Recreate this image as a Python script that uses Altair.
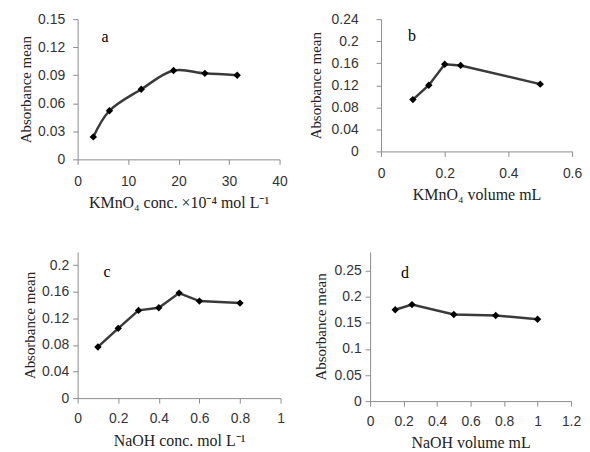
import altair as alt
import pandas as pd

# Panel a
a_x = [3.1, 6.3, 12.6, 19.0, 25.2, 31.6]
a_y = [0.024, 0.052, 0.075, 0.095, 0.092, 0.090]
# Panel b
b_x = [0.1, 0.15, 0.2, 0.25, 0.5]
b_y = [0.094, 0.120, 0.158, 0.156, 0.122]
# Panel c
c_x = [0.1, 0.2, 0.3, 0.4, 0.5, 0.6, 0.8]
c_y = [0.077, 0.105, 0.132, 0.136, 0.158, 0.146, 0.143]
# Panel d
d_x = [0.15, 0.25, 0.5, 0.75, 1.0]
d_y = [0.175, 0.185, 0.166, 0.164, 0.157]

a_xticks = [0, 10, 20, 30, 40]
a_yticks = [0, 0.03, 0.06, 0.09, 0.12, 0.15]
b_xticks = [0, 0.2, 0.4, 0.6]
b_yticks = [0, 0.04, 0.08, 0.12, 0.16, 0.2, 0.24]
c_xticks = [0, 0.2, 0.4, 0.6, 0.8, 1]
c_yticks = [0, 0.04, 0.08, 0.12, 0.16, 0.2]
d_xticks = [0, 0.2, 0.4, 0.6, 0.8, 1, 1.2]
d_yticks = [0, 0.05, 0.1, 0.15, 0.2, 0.25]

SERIF = "Liberation Serif"
SANS = "Liberation Sans"
AXIS_COL = "#8c8c8c"


def panel(xs, ys, xdom, xticks, ydom, yticks, xtitle, letter, w, h, lx, ly,
          ytp, ylp, xlp, xtp, interp):
    df = pd.DataFrame({"x": xs, "y": ys})
    xenc = alt.X("x:Q", scale=alt.Scale(domain=xdom, nice=False, zero=False),
                 axis=alt.Axis(values=xticks, title=xtitle, format="~r", grid=False,
                               titlePadding=xtp, labelPadding=xlp, labelFlush=False,
                               titleFontSize=16))
    yenc = alt.Y("y:Q", scale=alt.Scale(domain=ydom, nice=False, zero=False),
                 axis=alt.Axis(values=yticks, title="Absorbance mean", format="~r", grid=False,
                               titlePadding=ytp, labelPadding=ylp, titleFontSize=15))
    base = alt.Chart(df).encode(x=xenc, y=yenc)
    line = base.mark_line(color="#3a3a3a", strokeWidth=2.5, interpolate=interp)
    pts = base.mark_point(shape="diamond", filled=True, color="#000000", size=55, opacity=1)
    txt = alt.Chart(pd.DataFrame({"t": [letter]})).mark_text(
        font=SERIF, fontSize=16, color="#000000", align="left", baseline="middle"
    ).encode(text="t:N", x=alt.value(lx), y=alt.value(ly))
    return (line + pts + txt).properties(width=w, height=h)


pa = panel(a_x, a_y, [0, 40], a_xticks, [0, 0.15], a_yticks,
           "KMnO₄ conc. ×10⁻⁴ mol L⁻¹", "a", 203, 141, 24, 18, 4, 8, 10, 6, "catmull-rom")
pb = panel(b_x, b_y, [0, 0.6], b_xticks, [0, 0.24], b_yticks,
           "KMnO₄ volume mL", "b", 192, 133, 27, 17, 8, 18, 10, 6, "linear")
pc = panel(c_x, c_y, [0, 1], c_xticks, [0, 0.22], c_yticks,
           "NaOH conc. mol L⁻¹", "c", 204, 147, 26, 20, 4, 4, 9, 7, "linear")
pd_ = panel(d_x, d_y, [0, 1.2], d_xticks, [0, 0.286], d_yticks,
            "NaOH volume mL", "d", 202, 150, 31, 21, 6, 4, 9, 6, "linear")

chart = alt.vconcat(
    alt.hconcat(pa, pb, spacing=20),
    alt.hconcat(pc, pd_, spacing=28),
    spacing=42,
).configure_view(stroke=None).configure_axis(
    labelFont=SANS, titleFont=SERIF, labelFontSize=14,
    labelColor="#333333", titleColor="#222222", titleFontWeight="normal",
    domainColor=AXIS_COL, tickColor=AXIS_COL, tickSize=5, domainWidth=1,
).properties(background="white",
             padding={"left": 10, "top": 3, "right": 0, "bottom": 2})

chart.save("out.html", embed_options={"renderer": "svg", "actions": False})
